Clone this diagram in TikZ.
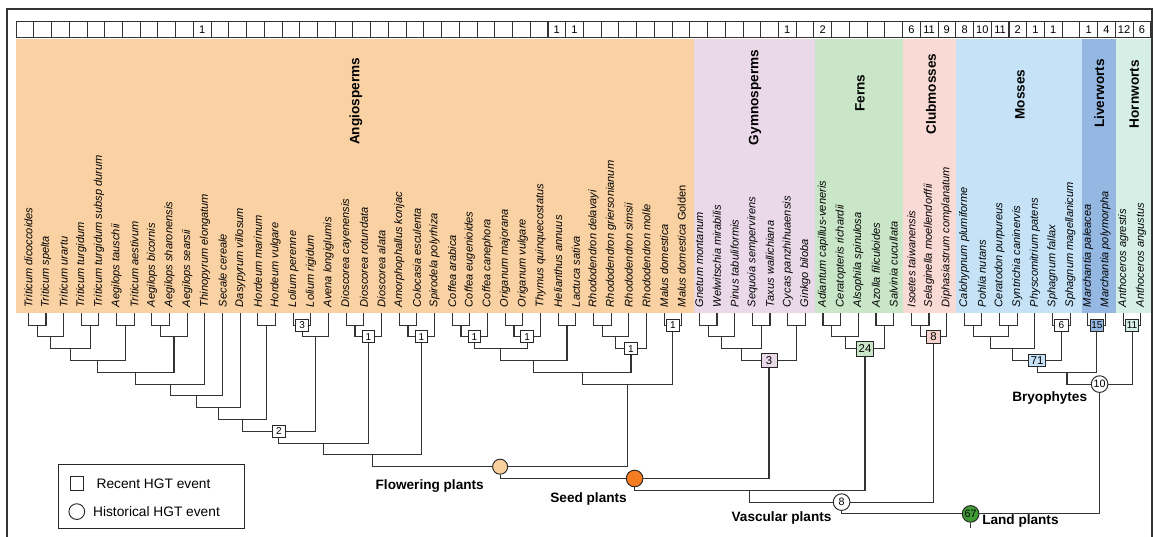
\documentclass[tikz,border=0pt]{standalone}
\usepackage{fontspec}
\setmainfont{Liberation Sans}

\definecolor{angio}{RGB}{249,209,162}
\definecolor{gymno}{RGB}{234,217,232}
\definecolor{fern}{RGB}{202,230,200}
\definecolor{club}{RGB}{250,218,213}
\definecolor{clubbox}{RGB}{246,210,205}
\definecolor{moss}{RGB}{197,226,246}
\definecolor{liver}{RGB}{148,184,226}
\definecolor{horn}{RGB}{213,239,230}
\definecolor{flowerfill}{RGB}{249,207,158}
\definecolor{seedfill}{RGB}{245,124,32}
\definecolor{landfill}{RGB}{62,155,52}
\definecolor{linegray}{RGB}{51,51,51}

\tikzset{
  sp/.style={rotate=90, anchor=west, inner xsep=4.5pt, inner ysep=0pt, font=\fontsize{8.3}{9}\selectfont\itshape},
  grp/.style={rotate=90, inner sep=0pt, font=\fontsize{10.2}{12}\selectfont\bfseries},
  cell/.style={draw=linegray, line width=0.6pt, minimum width=13.3pt, minimum height=12.4pt, inner sep=0pt, font=\fontsize{8.3}{9}\selectfont},
  branch/.style={draw=linegray, line width=0.85pt},
  recent/.style={draw=black!85, line width=0.7pt, fill=white, minimum width=9.5pt, minimum height=9pt, inner sep=0.8pt, font=\fontsize{7.5}{8}\selectfont},
  historical/.style={circle, draw=black!85, line width=0.7pt, fill=white, minimum size=12.5pt, inner sep=0.5pt, font=\fontsize{8}{9}\selectfont},
  clade/.style={inner sep=0pt, font=\fontsize{10.2}{12}\selectfont\bfseries},
  legtext/.style={anchor=west, inner sep=0pt, font=\fontsize{10.3}{12}\selectfont}
}

\begin{document}
\begin{tikzpicture}[x=0.75pt,y=0.75pt,yscale=-1,xscale=1]
\useasboundingbox (0,0) rectangle (1153,536);

%Shape: Rectangle [id:frame]
\draw [color=linegray, line width=1pt] (7,9) rectangle (1152,560);

%Shape: Rectangle [id:clade bands]
\fill [angio] (16,38.5) rectangle (694,313.3);
\fill [gymno] (694,38.5) rectangle (815,313.3);
\fill [fern] (815,38.5) rectangle (902.7,313.3);
\fill [club] (902.7,38.5) rectangle (955.7,313.3);
\fill [moss] (955.7,38.5) rectangle (1081.7,313.3);
\fill [liver] (1081.7,38.5) rectangle (1116,313.3);
\fill [horn] (1116,38.5) rectangle (1151,313.3);

% Text Node: counts row
\node [cell] (n0) at (24.9,29.2) {};
\node [cell] (n1) at (42.6,29.2) {};
\node [cell] (n2) at (60.3,29.2) {};
\node [cell] (n3) at (78.1,29.2) {};
\node [cell] (n4) at (95.8,29.2) {};
\node [cell] (n5) at (113.5,29.2) {};
\node [cell] (n6) at (131.3,29.2) {};
\node [cell] (n7) at (149.0,29.2) {};
\node [cell] (n8) at (166.7,29.2) {};
\node [cell] (n9) at (184.4,29.2) {};
\node [cell] (n10) at (202.2,29.2) {1};
\node [cell] (n11) at (219.9,29.2) {};
\node [cell] (n12) at (237.6,29.2) {};
\node [cell] (n13) at (255.4,29.2) {};
\node [cell] (n14) at (273.1,29.2) {};
\node [cell] (n15) at (290.8,29.2) {};
\node [cell] (n16) at (308.6,29.2) {};
\node [cell] (n17) at (326.3,29.2) {};
\node [cell] (n18) at (344.0,29.2) {};
\node [cell] (n19) at (361.7,29.2) {};
\node [cell] (n20) at (379.5,29.2) {};
\node [cell] (n21) at (397.2,29.2) {};
\node [cell] (n22) at (414.9,29.2) {};
\node [cell] (n23) at (432.7,29.2) {};
\node [cell] (n24) at (450.4,29.2) {};
\node [cell] (n25) at (468.1,29.2) {};
\node [cell] (n26) at (485.9,29.2) {};
\node [cell] (n27) at (503.6,29.2) {};
\node [cell] (n28) at (521.3,29.2) {};
\node [cell] (n29) at (539.0,29.2) {};
\node [cell] (n30) at (556.8,29.2) {1};
\node [cell] (n31) at (574.5,29.2) {1};
\node [cell] (n32) at (592.2,29.2) {};
\node [cell] (n33) at (610.0,29.2) {};
\node [cell] (n34) at (627.7,29.2) {};
\node [cell] (n35) at (645.4,29.2) {};
\node [cell] (n36) at (663.2,29.2) {};
\node [cell] (n37) at (680.9,29.2) {};
\node [cell] (n38) at (698.6,29.2) {};
\node [cell] (n39) at (716.3,29.2) {};
\node [cell] (n40) at (734.1,29.2) {};
\node [cell] (n41) at (751.8,29.2) {};
\node [cell] (n42) at (769.5,29.2) {};
\node [cell] (n43) at (787.3,29.2) {1};
\node [cell] (n44) at (805.0,29.2) {};
\node [cell] (n45) at (822.7,29.2) {2};
\node [cell] (n46) at (840.5,29.2) {};
\node [cell] (n47) at (858.2,29.2) {};
\node [cell] (n48) at (875.9,29.2) {};
\node [cell] (n49) at (893.6,29.2) {};
\node [cell] (n50) at (911.4,29.2) {6};
\node [cell] (n51) at (929.1,29.2) {11};
\node [cell] (n52) at (946.8,29.2) {9};
\node [cell] (n53) at (964.6,29.2) {8};
\node [cell] (n54) at (982.3,29.2) {10};
\node [cell] (n55) at (1000.0,29.2) {11};
\node [cell] (n56) at (1017.8,29.2) {2};
\node [cell] (n57) at (1035.5,29.2) {1};
\node [cell] (n58) at (1053.2,29.2) {1};
\node [cell] (n59) at (1070.9,29.2) {};
\node [cell] (n60) at (1088.7,29.2) {1};
\node [cell] (n61) at (1106.4,29.2) {4};
\node [cell] (n62) at (1124.1,29.2) {12};
\node [cell] (n63) at (1141.9,29.2) {6};

% Text Node: clade names
\node [grp] (tangio) at (356,101.5) {Angiosperms};
\node [grp] (tgymno) at (755,97.5) {Gymnosperms};
\node [grp] (tfern) at (860,93.3) {Ferns};
\node [grp] (tclub) at (931,94) {Clubmosses};
\node [grp] (tmoss) at (1020,94.5) {Mosses};
\node [grp] (tliver) at (1099.3,93.5) {Liverworts};
\node [grp] (thorn) at (1134.3,94.3) {Hornworts};

% Text Node: species
\node [sp] (s0) at (28.3,313.3) {Triticum dicoccoides};
\node [sp] (s1) at (46.0,313.3) {Triticum spelta};
\node [sp] (s2) at (63.6,313.3) {Triticum urartu};
\node [sp] (s3) at (81.3,313.3) {Triticum turgidum};
\node [sp] (s4) at (98.9,313.3) {Triticum turgidum subsp durum};
\node [sp] (s5) at (116.6,313.3) {Aegilops tauschii};
\node [sp] (s6) at (134.3,313.3) {Triticum aestivum};
\node [sp] (s7) at (151.9,313.3) {Aegilops bicornis};
\node [sp] (s8) at (169.6,313.3) {Aegilops sharonensis};
\node [sp] (s9) at (187.2,313.3) {Aegilops searsii};
\node [sp] (s10) at (204.9,313.3) {Thinopyrum elongatum};
\node [sp] (s11) at (222.6,313.3) {Secale cereale};
\node [sp] (s12) at (240.2,313.3) {Dasypyrum villosum};
\node [sp] (s13) at (257.9,313.3) {Hordeum marinum};
\node [sp] (s14) at (275.5,313.3) {Hordeum vulgare};
\node [sp] (s15) at (293.2,313.3) {Lolium perenne};
\node [sp] (s16) at (310.9,313.3) {Lolium rigidum};
\node [sp] (s17) at (328.5,313.3) {Avena longiglumis};
\node [sp] (s18) at (346.2,313.3) {Dioscorea cayenensis};
\node [sp] (s19) at (363.8,313.3) {Dioscorea rotundata};
\node [sp] (s20) at (381.5,313.3) {Dioscorea alata};
\node [sp] (s21) at (399.2,313.3) {Amorphophallus konjac};
\node [sp] (s22) at (416.8,313.3) {Colocasia esculenta};
\node [sp] (s23) at (434.5,313.3) {Spirodela polyrhiza};
\node [sp] (s24) at (452.1,313.3) {Coffea arabica};
\node [sp] (s25) at (469.8,313.3) {Coffea eugenioides};
\node [sp] (s26) at (487.5,313.3) {Coffea canephora};
\node [sp] (s27) at (505.1,313.3) {Origanum majorana};
\node [sp] (s28) at (522.8,313.3) {Origanum vulgare};
\node [sp] (s29) at (540.4,313.3) {Thymus quinquecostatus};
\node [sp] (s30) at (558.1,313.3) {Helianthus annuus};
\node [sp] (s31) at (575.8,313.3) {Lactuca sativa};
\node [sp] (s32) at (593.4,313.3) {Rhododendron delavayi};
\node [sp] (s33) at (611.1,313.3) {Rhododendron griersonianum};
\node [sp] (s34) at (628.7,313.3) {Rhododendron simsii};
\node [sp] (s35) at (646.4,313.3) {Rhododendron molle};
\node [sp] (s36) at (664.1,313.3) {Malus domestica};
\node [sp] (s37) at (681.7,313.3) {Malus domestica \upshape Golden};
\node [sp] (s38) at (699.4,313.3) {Gnetum montanum};
\node [sp] (s39) at (717.0,313.3) {Welwitschia mirabilis};
\node [sp] (s40) at (734.7,313.3) {Pinus tabuliformis};
\node [sp] (s41) at (752.4,313.3) {Sequoia sempervirens};
\node [sp] (s42) at (770.0,313.3) {Taxus wallichiana};
\node [sp] (s43) at (787.7,313.3) {Cycas panzhihuaensis};
\node [sp] (s44) at (805.3,313.3) {Ginkgo biloba};
\node [sp] (s45) at (823.0,313.3) {Adiantum capillus-veneris};
\node [sp] (s46) at (840.7,313.3) {Ceratopteris richardii};
\node [sp] (s47) at (858.3,313.3) {Alsophila spinulosa};
\node [sp] (s48) at (876.0,313.3) {Azolla filiculoides};
\node [sp] (s49) at (893.6,313.3) {Salvinia cucullata};
\node [sp] (s50) at (911.3,313.3) {Isoetes taiwanensis};
\node [sp] (s51) at (929.0,313.3) {Selaginella moellendorffii};
\node [sp] (s52) at (946.6,313.3) {Diphasiastrum complanatum};
\node [sp] (s53) at (964.3,313.3) {Calohypnum plumiforme};
\node [sp] (s54) at (981.9,313.3) {Pohlia nutans};
\node [sp] (s55) at (999.6,313.3) {Ceratodon purpureus};
\node [sp] (s56) at (1017.3,313.3) {Syntrichia caninervis};
\node [sp] (s57) at (1034.9,313.3) {Physcomitrium patens};
\node [sp] (s58) at (1052.6,313.3) {Sphagnum fallax};
\node [sp] (s59) at (1070.2,313.3) {Sphagnum magellanicum};
\node [sp] (s60) at (1087.9,313.3) {Marchantia paleacea};
\node [sp] (s61) at (1105.6,313.3) {Marchantia polymorpha};
\node [sp] (s62) at (1123.2,313.3) {Anthoceros agrestis};
\node [sp] (s63) at (1140.9,313.3) {Anthoceros angustus};

%Shape: Square [id:recent HGT events]
\node [recent] (a15) at (302.1,325.1) {3};
\node [recent] (a17) at (278.9,431.3) {2};
\node [recent] (a19) at (368.3,336.9) {1};
\node [recent] (a22) at (421.3,336.9) {1};
\node [recent] (a25) at (474.3,336.9) {1};
\node [recent] (a27) at (527.2,336.9) {1};
\node [recent] (a33) at (631.0,348.7) {1};
\node [recent] (a35) at (672.9,325.1) {1};
\node [recent, fill=gymno, minimum width=12pt, minimum height=10.7pt, font=\fontsize{8.5}{9}\selectfont] (g6) at (769.0,360.5) {3};
\node [recent, fill=fern, minimum width=12.5pt, minimum height=11.2pt, font=\fontsize{8.5}{9}\selectfont] (f4) at (865.0,348.7) {24};
\node [recent, fill=clubbox, minimum width=10pt, minimum height=10pt, font=\fontsize{8.5}{9}\selectfont] (c2) at (933.4,336.9) {8};
\node [recent, minimum width=10pt] (m5) at (1061.4,325.1) {6};
\node [recent, fill=moss, minimum width=12.5pt, font=\fontsize{8.5}{9}\selectfont] (m6) at (1037.2,360.5) {71};
\node [recent, fill=liver, minimum width=10pt] (v1) at (1096.8,325.1) {15};
\node [recent, fill=horn, minimum width=10pt] (h1) at (1132.1,325.1) {11};

%Shape: Circle [id:historical HGT events]
\node [historical, fill=flowerfill, minimum size=11.3pt] (flower) at (500.1,466.7) {};
\node [historical, fill=seedfill] (seed) at (634.6,478.5) {};
\node [historical] (vasc) at (841.6,502.1) {8};
\node [historical] (bryo) at (1099.6,384.1) {10};
\node [historical, fill=landfill] (land) at (970.6,513.9) {67};
\coordinate (landroot) at (970.6,528);

% internal branch points
\coordinate (a1) at (37.2,325.1);
\coordinate (a2) at (50.4,336.9);
\coordinate (a3) at (90.1,325.1);
\coordinate (a4) at (70.3,348.7);
\coordinate (a5) at (125.5,325.1);
\coordinate (a6) at (97.9,360.5);
\coordinate (a7) at (160.8,325.1);
\coordinate (a8) at (174.0,336.9);
\coordinate (a9) at (135.9,372.3);
\coordinate (a10) at (170.4,384.1);
\coordinate (a11) at (196.5,395.9);
\coordinate (a12) at (218.4,407.7);
\coordinate (a13) at (266.7,325.1);
\coordinate (a14) at (242.5,419.5);
\coordinate (a16) at (315.3,336.9);
\coordinate (a18) at (355.0,325.1);
\coordinate (a20) at (323.6,443.1);
\coordinate (a21) at (408.0,325.1);
\coordinate (a23) at (372.4,454.9);
\coordinate (a24) at (461.0,325.1);
\coordinate (a26) at (514.0,325.1);
\coordinate (a28) at (500.7,348.7);
\coordinate (a29) at (567.0,325.1);
\coordinate (a30) at (533.9,360.5);
\coordinate (a31) at (602.3,325.1);
\coordinate (a32) at (615.5,336.9);
\coordinate (a34) at (582.5,372.3);
\coordinate (a36) at (627.7,384.1);
\coordinate (g1) at (708.2,325.1);
\coordinate (g2) at (721.5,336.9);
\coordinate (g3) at (761.2,325.1);
\coordinate (g4) at (741.4,348.7);
\coordinate (g5) at (796.5,325.1);
\coordinate (f1) at (831.9,325.1);
\coordinate (f2) at (845.1,336.9);
\coordinate (f3) at (884.8,325.1);
\coordinate (e1) at (749.8,490.3);
\coordinate (c1) at (920.2,325.1);
\coordinate (m1) at (973.1,325.1);
\coordinate (m2) at (1008.5,325.1);
\coordinate (m3) at (990.8,336.9);
\coordinate (m4) at (1012.9,348.7);
\coordinate (mv) at (1067.0,372.3);

%Straight Lines [id:angiosperms]
\draw [branch] (s0.west) |- (a1) -| (s1.west);
\draw [branch] (a1) |- (a2) -| (s2.west);
\draw [branch] (s3.west) |- (a3) -| (s4.west);
\draw [branch] (a2) |- (a4) -| (a3);
\draw [branch] (s5.west) |- (a5) -| (s6.west);
\draw [branch] (a4) |- (a6) -| (a5);
\draw [branch] (s7.west) |- (a7) -| (s8.west);
\draw [branch] (a7) |- (a8) -| (s9.west);
\draw [branch] (a6) |- (a9) -| (a8);
\draw [branch] (a9) |- (a10) -| (s10.west);
\draw [branch] (a10) |- (a11) -| (s11.west);
\draw [branch] (a11) |- (a12) -| (s12.west);
\draw [branch] (s13.west) |- (a13) -| (s14.west);
\draw [branch] (a12) |- (a14) -| (a13);
\draw [branch] (s15.west) |- (a15) -| (s16.west);
\draw [branch] (a15) |- (a16) -| (s17.west);
\draw [branch] (a14) |- (a17) -| (a16);
\draw [branch] (s18.west) |- (a18) -| (s19.west);
\draw [branch] (a18) |- (a19) -| (s20.west);
\draw [branch] (a17) |- (a20) -| (a19);
\draw [branch] (s21.west) |- (a21) -| (s22.west);
\draw [branch] (a21) |- (a22) -| (s23.west);
\draw [branch] (a20) |- (a23) -| (a22);
\draw [branch] (s24.west) |- (a24) -| (s25.west);
\draw [branch] (a24) |- (a25) -| (s26.west);
\draw [branch] (s27.west) |- (a26) -| (s28.west);
\draw [branch] (a26) |- (a27) -| (s29.west);
\draw [branch] (a25) |- (a28) -| (a27);
\draw [branch] (s30.west) |- (a29) -| (s31.west);
\draw [branch] (a28) |- (a30) -| (a29);
\draw [branch] (s32.west) |- (a31) -| (s33.west);
\draw [branch] (a31) |- (a32) -| (s34.west);
\draw [branch] (a32) |- (a33) -| (s35.west);
\draw [branch] (a30) |- (a34) -| (a33);
\draw [branch] (s36.west) |- (a35) -| (s37.west);
\draw [branch] (a34) |- (a36) -| (a35);
\draw [branch] (a23) |- (flower) -| (a36);

%Straight Lines [id:gymnosperms]
\draw [branch] (s38.west) |- (g1) -| (s39.west);
\draw [branch] (g1) |- (g2) -| (s40.west);
\draw [branch] (s41.west) |- (g3) -| (s42.west);
\draw [branch] (g2) |- (g4) -| (g3);
\draw [branch] (s43.west) |- (g5) -| (s44.west);
\draw [branch] (g4) |- (g6) -| (g5);
\draw [branch] (flower) |- (seed) -| (g6);

%Straight Lines [id:ferns and clubmosses]
\draw [branch] (s45.west) |- (f1) -| (s46.west);
\draw [branch] (f1) |- (f2) -| (s47.west);
\draw [branch] (s48.west) |- (f3) -| (s49.west);
\draw [branch] (f2) |- (f4) -| (f3);
\draw [branch] (seed) |- (e1) -| (f4);
\draw [branch] (s50.west) |- (c1) -| (s51.west);
\draw [branch] (c1) |- (c2) -| (s52.west);
\draw [branch] (e1) |- (vasc) -| (c2);

%Straight Lines [id:bryophytes]
\draw [branch] (s53.west) |- (m1) -| (s54.west);
\draw [branch] (s55.west) |- (m2) -| (s56.west);
\draw [branch] (m1) |- (m3) -| (m2);
\draw [branch] (m3) |- (m4) -| (s57.west);
\draw [branch] (s58.west) |- (m5) -| (s59.west);
\draw [branch] (m4) |- (m6) -| (m5);
\draw [branch] (s60.west) |- (v1) -| (s61.west);
\draw [branch] (m6) |- (mv) -| (v1);
\draw [branch] (s62.west) |- (h1) -| (s63.west);
\draw [branch] (mv) |- (bryo) -| (h1);
\draw [branch] (vasc) |- (land) -| (bryo);
\draw [branch] (land) -- (landroot);

% Text Node: clade labels
\node [clade, anchor=east] (lflower) at (484,486.5) {Flowering plants};
\node [clade, anchor=east] (lseed) at (627,498.5) {Seed plants};
\node [clade, anchor=east] (lvasc) at (831.7,517.5) {Vascular plants};
\node [clade] (lbryo) at (1049.7,398.3) {Bryophytes};
\node [clade, anchor=west] (lland) at (982,521) {Land plants};

%Shape: Rectangle [id:legend]
\node [draw=black!85, line width=0.7pt, minimum width=139.5pt, minimum height=48pt, inner sep=0pt] (legend) at (151,496.6) {};
\node [draw=black!85, line width=0.7pt, minimum size=10.2pt, inner sep=0pt] (legsq) at (76.8,483.4) {};
\node [circle, draw=black!85, line width=0.7pt, minimum size=11.8pt, inner sep=0pt] (legci) at (76.8,511.6) {};
\node [legtext] (legrecent) at (96.4,484) {Recent HGT event};
\node [legtext] (leghist) at (92.9,511.6) {Historical HGT event};

\end{tikzpicture}
\end{document}
